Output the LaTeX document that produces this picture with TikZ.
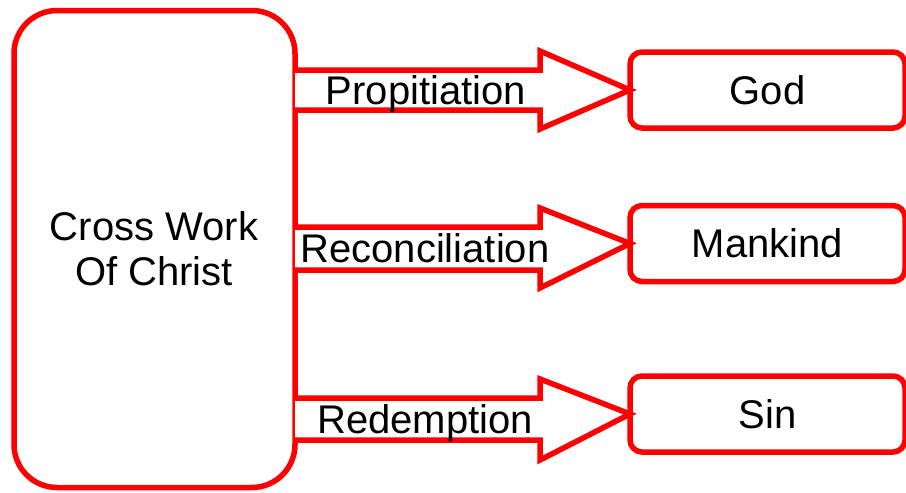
\documentclass[tikz,border=0pt]{standalone}
\usepackage{fontspec}
\setmainfont{Liberation Sans}
\definecolor{fred}{RGB}{255,0,0}
\begin{document}
\begin{tikzpicture}[x=1pt,y=-1pt,
  redline/.style={draw=fred,line width=5.5pt},
  bigbox/.style={redline,rounded corners=43pt,minimum width=281pt,minimum height=477pt,inner sep=0pt,outer sep=0pt},
  smallbox/.style={redline,rounded corners=12pt,minimum width=275pt,minimum height=76pt,inner sep=0pt,outer sep=0pt,
    font=\fontsize{40}{45}\selectfont},
  lbl/.style={anchor=base,inner sep=0pt,font=\fontsize{40}{45}\selectfont},
  arrowshape/.style={redline,line join=miter,fill=white}
]
\useasboundingbox (0,0) rectangle (906,493);
\node[bigbox] (cross) at (154.5,249) {};
\node[lbl] (t1) at (154,240) {Cross Work};
\node[lbl] (t2) at (154,285) {Of Christ};

\node[smallbox] (god) at (767.5,90) {God};
\node[smallbox] (man) at (767.5,243.5) {Mankind};
\node[smallbox] (sin) at (767.5,414) {Sin};

\draw[arrowshape] (cross.east |- 0,70) -- (540,70) -- (540,51) -- (god.west) -- (540,129) -- (540,110) -- (cross.east |- 0,110);
\draw[arrowshape] (cross.east |- 0,227) -- (540,227) -- (540,208) -- (man.west) -- (540,288) -- (540,270) -- (cross.east |- 0,270);
\draw[arrowshape] (cross.east |- 0,398) -- (540,398) -- (540,379) -- (sin.west) -- (540,460) -- (540,440) -- (cross.east |- 0,440);

\node[lbl] (l1) at (426,104) {Propitiation};
\node[lbl] (l2) at (425,262) {Reconciliation};
\node[lbl] (l3) at (425,433) {Redemption};
\end{tikzpicture}
\end{document}
